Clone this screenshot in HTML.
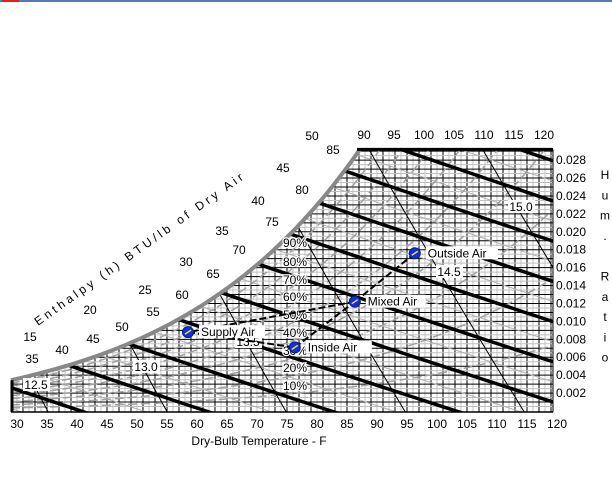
<!DOCTYPE html>
<html><head><meta charset="utf-8"><style>
html,body{margin:0;padding:0;background:#fff;width:612px;height:480px;overflow:hidden;}
svg{display:block;font-family:"Liberation Sans",Arial,sans-serif;}
</style></head><body>
<svg id="chart" width="612" height="480" viewBox="0 0 612 480" xmlns="http://www.w3.org/2000/svg">
<rect x="0" y="0" width="612" height="2" fill="#5a78b0"/>
<rect x="2" y="0" width="17" height="2" fill="#e02020"/>
<defs><clipPath id="plotclip"><polygon id="clippoly" points=""/></clipPath></defs>
<g id="grid" clip-path="url(#plotclip)"></g>
<g id="marks" clip-path="url(#plotclip)"></g>
<g id="frame"></g>
<g id="labels"></g>
<g id="process"></g>
</svg>
<script>
// ---- data ----
const satTemps = [30,35,40,45,50,55,60,65,70,75,80,85,90,95,100,105,110,115,120];
const satPress = [0.0808,0.0999,0.1217,0.1475,0.1781,0.2141,0.2563,0.3057,0.3632,0.4300,0.5073,0.5964,0.6988,0.8162,0.9503,1.1030,1.2763,1.4725,1.6945];
const enthalpyLines = [10,15,20,25,30,35,40,45,50,55,60];
const volumeLines = [12.5,13.0,13.5,14.0,14.5,15.0];
const rhLines = [0.1,0.2,0.3,0.4,0.5,0.6,0.7,0.8,0.9];
const bottomTicks = [30,35,40,45,50,55,60,65,70,75,80,85,90,95,100,105,110,115,120];
const topTicks = [90,95,100,105,110,115,120];
const rightTicks = ["0.028","0.026","0.024","0.022","0.020","0.018","0.016","0.014","0.012","0.010","0.008","0.006","0.004","0.002"];
const enthalpyLabels = [15,20,25,30,35,40,45,50];
const satLabels = [35,40,45,50,55,60,65,70,75,80,85];
const rhLabelVals = ["90%","80%","70%","60%","50%","40%","30%","20%","10%"];
const volumeLabelVals = ["12.5","13.0","13.5","14.5","15.0"];
const pointNames = ["Outside Air","Mixed Air","Inside Air","Supply Air"];
const pointT = [97.3,87.3,77.3,59.5];
const pointW = [0.0176,0.0122,0.0071,0.0088];
const processPairs = [[0,1],[2,1],[1,3],[3,2]];

const P = 14.696, WTOP = 0.0292;
const X = T => 11 + 6*(T-30);
const Y = w => 411 - 8960*w;
const NS = "http://www.w3.org/2000/svg";
function mk(parent, tag, attrs){const e=document.createElementNS(NS,tag);for(const k in attrs)e.setAttribute(k,attrs[k]);parent.appendChild(e);return e;}
function ps(T){
  let i=Math.min(Math.max(Math.floor((T-30)/5),0),satTemps.length-2);
  const f=(T-satTemps[i])/5;
  return Math.exp(Math.log(satPress[i])*(1-f)+Math.log(satPress[i+1])*f);
}
function wAt(T,phi){const p=phi*ps(T);return 0.622*p/(P-p);}
function pathFrom(pts){return pts.map((p,i)=>(i?"L":"M")+p[0].toFixed(1)+" "+p[1].toFixed(1)).join(" ");}

const grid=document.getElementById('grid'), marks=document.getElementById('marks'),
      frame=document.getElementById('frame'), labels=document.getElementById('labels'), proc=document.getElementById('process');

const satPts=[];
let Ttop=30;
for(let T=30;T<=100;T+=0.25){const w=wAt(T,1);if(w>WTOP){break;}Ttop=T;satPts.push([X(T),Y(w)]);}
satPts.push([X(Ttop+0.2),Y(WTOP)]);
const clipPts=satPts.concat([[553,Y(WTOP)],[553,412],[11,412]]);
document.getElementById('clippoly').setAttribute('points',clipPts.map(p=>p.join(",")).join(" "));

for(let T=30;T<=120;T++){
  const l=mk(grid,'line',{x1:X(T),x2:X(T),y1:140,y2:412,stroke:T%2===0?'#000':'#c0c0c0','stroke-width':1});
  
  
}
for(let k=1;k<=58;k++){
  const w=k*0.0005;
  const l=mk(grid,'line',{x1:11,x2:553,y1:Y(w),y2:Y(w),stroke:k%2===0?'#000':'#c0c0c0','stroke-width':1});
  
  
}
function hLine(h){const pts=[];for(let T=20;T<=125;T+=1){const w=(h-0.24*T)/(1061+0.444*T);pts.push([X(T),Y(w)]);}return pathFrom(pts);}
for(let h=7.5;h<=65;h+=2.5){
  if(h%5===0)continue;
  const p=mk(grid,'path',{d:hLine(h),stroke:'#b0b0b0','stroke-width':1,fill:'none'});
  
  
}
function rhPath(phi){const pts=[];for(let T=30;T<=120;T+=1)pts.push([X(T),Y(wAt(T,phi))]);return pathFrom(pts);}
for(let i=0;i<rhLines.length;i++){
  const p=mk(marks,'path',{d:rhPath(rhLines[i]),stroke:'#a0a0a0','stroke-width':1.5,fill:'none','stroke-dasharray':'9,4'});
  
  
}
for(let i=0;i<enthalpyLines.length;i++){
  const p=mk(marks,'path',{d:hLine(enthalpyLines[i]),stroke:'#000','stroke-width':3.5,fill:'none'});
  
  
}
function vPath(v){const pts=[];for(let T=20;T<=130;T+=1){const w=(v*P/(0.3705*(T+459.7))-1)/1.6078;pts.push([X(T),Y(w)]);}return pathFrom(pts);}
for(let i=0;i<volumeLines.length;i++){
  const p=mk(marks,'path',{d:vPath(volumeLines[i]),stroke:'#000','stroke-width':1,fill:'none'});
  
  
}

const sat=mk(frame,'path',{d:pathFrom(satPts),stroke:'#888','stroke-width':4,fill:'none'});


const tl=mk(frame,'line',{x1:X(Ttop)-2,x2:553,y1:Y(WTOP),y2:Y(WTOP),stroke:'#000','stroke-width':3});


const rl=mk(frame,'line',{x1:553,x2:553,y1:Y(WTOP),y2:412,stroke:'#000','stroke-width':1});


const bl=mk(frame,'line',{x1:11,x2:553,y1:412,y2:412,stroke:'#000','stroke-width':1.5});


const ll=mk(frame,'line',{x1:12,x2:12,y1:Y(wAt(30,1)),y2:412,stroke:'#000','stroke-width':3});



function txt(parent,x,y,s,attrs){const t=mk(parent,'text',Object.assign({x:x,y:y,'font-size':12,fill:'#000'},attrs||{}));t.textContent=s;return t;}
for(let i=0;i<bottomTicks.length;i++){
  const t=txt(labels,X(bottomTicks[i])+6,428,String(bottomTicks[i]),{'text-anchor':'middle'});
  
  
}
for(let i=0;i<topTicks.length;i++){
  const t=txt(labels,X(topTicks[i])-7,139,String(topTicks[i]),{'text-anchor':'middle'});
  
  
}
for(let i=0;i<rightTicks.length;i++){
  const t=txt(labels,556,Y(parseFloat(rightTicks[i]))+4,rightTicks[i],{});
  
  
}
const xt=txt(labels,259,445,"Dry-Bulb Temperature - F",{'text-anchor':'middle'});


const yLetters=["H","u","m",".","","R","a","t","i","o"];
for(let i=0;i<yLetters.length;i++){
  if(!yLetters[i])continue;
  const t=txt(labels,605,179+i*20.3,yLetters[i],{'text-anchor':'middle'});
  
  
}
const ePos=[[30,341],[90,314],[145,294],[186,266],[222,235],[258,205],[283,172],[312,140]];
for(let i=0;i<enthalpyLabels.length;i++){
  const t=txt(labels,ePos[i][0],ePos[i][1],String(enthalpyLabels[i]),{'text-anchor':'middle'});
  
  
}
const sPos=[[32,363],[62,354],[93,343],[122,331],[153,316],[182,299],[213,278],[239,254],[272,226],[302,194],[333,154]];
for(let i=0;i<satLabels.length;i++){
  const t=txt(labels,sPos[i][0],sPos[i][1],String(satLabels[i]),{'text-anchor':'middle'});
  
  
}
const et=mk(labels,'text',{x:0,y:0,'font-size':12,'letter-spacing':'3.3',transform:'translate(38,326) rotate(-35.5)'});
et.textContent="Enthalpy (h) BTU/lb of Dry Air";


const rhY=[247,266,284,301,319,337,355,372,390];
for(let i=0;i<rhLabelVals.length;i++){
  const t=txt(labels,283,rhY[i],rhLabelVals[i],{fill:'#000','font-size':12,stroke:'#fff','stroke-width':2.5,'paint-order':'stroke'});
  
  
}
const vPos=[[36,389],[146,371],[248,346],[449,276],[521,211]];
for(let i=0;i<volumeLabelVals.length;i++){
  const bg=mk(labels,'rect',{x:vPos[i][0]-13,y:vPos[i][1]-11,width:27,height:13,fill:'#fff'});
  
  
  const t=txt(labels,vPos[i][0],vPos[i][1],volumeLabelVals[i],{'text-anchor':'middle'});
  
  
}
for(let i=0;i<processPairs.length;i++){
  const a=processPairs[i][0], b=processPairs[i][1];
  const l=mk(proc,'line',{x1:X(pointT[a]),y1:Y(pointW[a]),x2:X(pointT[b]),y2:Y(pointW[b]),stroke:'#000','stroke-width':2,'stroke-dasharray':'7,3'});
  
  
}
for(let i=0;i<pointNames.length;i++){
  const cx=X(pointT[i]), cy=Y(pointW[i]);
  const c=mk(proc,'circle',{cx:cx,cy:cy,r:5.5,fill:'#1030e0',stroke:'#002080','stroke-width':1});
  
  
  const m=mk(proc,'line',{x1:cx-3,y1:cy+2,x2:cx+3,y2:cy-2,stroke:'#e8e030','stroke-width':1.5});
  
  
  const w=pointNames[i].length*6.2+4;
  const bg=mk(proc,'rect',{x:cx+11,y:cy-7,width:w,height:13,fill:'#fff'});
  
  
  const t=txt(proc,cx+13,cy+4,pointNames[i],{'font-size':12});
  
  
}
</script>
</body></html>
